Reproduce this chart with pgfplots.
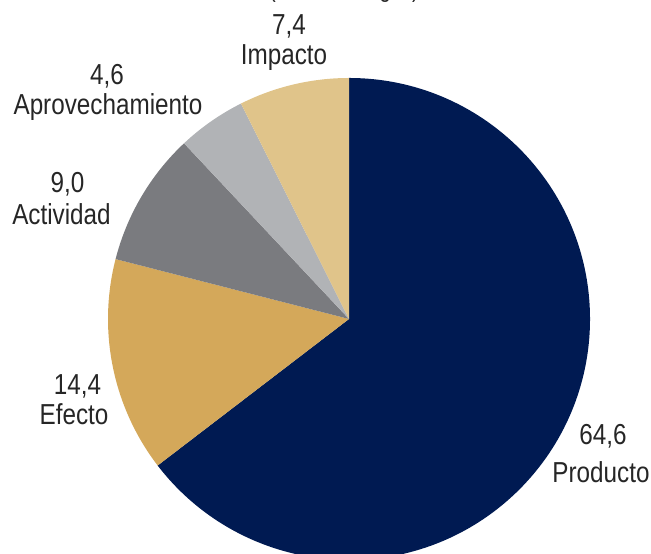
\documentclass[border=0pt]{standalone}
\usepackage{fontspec}
\setmainfont{Liberation Sans}[FakeStretch=0.84]
\usepackage{pgfplots}
\pgfplotsset{compat=1.18}
\definecolor{cProd}{HTML}{001A52}
\definecolor{cEfec}{HTML}{D4A85A}
\definecolor{cActi}{HTML}{7A7B7F}
\definecolor{cAprov}{HTML}{B1B3B6}
\definecolor{cImpa}{HTML}{E0C48A}
\definecolor{lab}{HTML}{262626}
\begin{document}
\begin{tikzpicture}[x=1bp,y=1bp]
\useasboundingbox (0,0) rectangle (651,554);
\clip (0,0) rectangle (651,554);
\begin{axis}[at={(0,0)}, anchor=south west, x=1bp, y=1bp,
  xmin=0, xmax=651, ymin=0, ymax=554, hide axis, clip=false]
\pgfplotsextra{
  \xdef\cum{0}
  \foreach \v/\c in {64.6/cProd,14.4/cEfec,9.0/cActi,4.6/cAprov,7.4/cImpa}{
    \pgfmathsetmacro\a{90-3.6*\cum}
    \pgfmathsetmacro\b{90-3.6*(\cum+\v)}
    \fill[\c] (axis cs:349,235) -- ++(\a:241bp) arc[start angle=\a, end angle=\b, radius=241bp] -- cycle;
    \pgfmathsetmacro\newcum{\cum+\v}
    \global\let\cum\newcum
  }
}
\end{axis}
\begin{scope}[every node/.style={anchor=base, inner sep=0pt, text=lab, font=\fontsize{29}{31}\selectfont}]
\node at (289,519) {7,4};
\node at (284,489.5) {Impacto};
\node at (107,469) {4,6};
\node at (108,439) {Aprovechamiento};
\node at (67.5,361) {9,0};
\node at (61.5,329) {Actividad};
\node at (77.5,159) {14,4};
\node at (74,129) {Efecto};
\node at (603,109) {64,6};
\node at (601,71) {Producto};
\node[font=\fontsize{24}{26}\selectfont] at (344,556) {(\% de hallazgos)};
\end{scope}
\end{tikzpicture}
\end{document}
